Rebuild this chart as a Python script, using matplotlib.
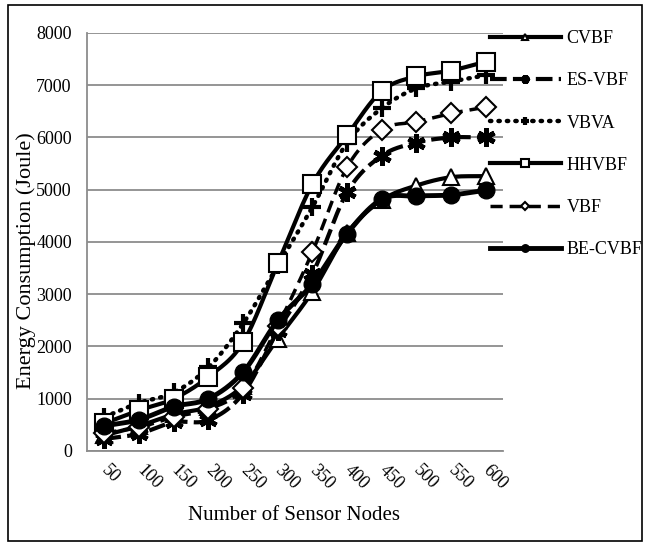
import numpy as np
import matplotlib
matplotlib.use("Agg")
import matplotlib.pyplot as plt
from matplotlib.lines import Line2D
from matplotlib.patches import Rectangle

plt.rcParams['font.family'] = ['Liberation Serif', 'DejaVu Serif']

# Energy consumption per protocol (Joule) vs number of sensor nodes
nodes = [50, 100, 150, 200, 250, 300, 350, 400, 450, 500, 550, 600]
cvbf = [300, 480, 700, 850, 1250, 2150, 3050, 4170, 4800, 5080, 5240, 5260]
es_vbf = [230, 330, 550, 590, 1100, 2300, 3390, 4950, 5650, 5900, 6000, 6000]
vbva = [650, 920, 1120, 1600, 2440, 3550, 4670, 5900, 6560, 6940, 7070, 7190]
hhvbf = [530, 780, 1000, 1420, 2080, 3590, 5110, 6040, 6890, 7170, 7280, 7450]
vbf = [350, 450, 650, 800, 1200, 2400, 3810, 5430, 6150, 6300, 6460, 6580]
be_cvbf = [480, 600, 850, 1000, 1510, 2500, 3200, 4160, 4820, 4880, 4900, 4990]


def smooth(y, n=24):
    # Catmull-Rom spline through the points, like a smoothed office chart line
    y = np.asarray(y, dtype=float)
    p = np.concatenate([[2 * y[0] - y[1]], y, [2 * y[-1] - y[-2]]])
    xs, ys = [], []
    for i in range(len(y) - 1):
        p0, p1, p2, p3 = p[i], p[i + 1], p[i + 2], p[i + 3]
        t = np.linspace(0, 1, n, endpoint=False)
        yy = 0.5 * ((2 * p1) + (-p0 + p2) * t + (2 * p0 - 5 * p1 + 4 * p2 - p3) * t ** 2
                    + (-p0 + 3 * p1 - 3 * p2 + p3) * t ** 3)
        xs.append(i + t)
        ys.append(yy)
    xs.append([len(y) - 1])
    ys.append([y[-1]])
    return np.concatenate(xs), np.concatenate(ys)


series = [
    ("CVBF", cvbf, dict(ls='-', lw=3, marker='^', ms=11, mfc='white', mew=1.5)),
    ("ES-VBF", es_vbf, dict(ls=(0, (4, 1.5)), lw=3, marker=(6, 2, 0), ms=13, mew=3.5)),
    ("VBVA", vbva, dict(ls=(0, (0.3, 1.6)), lw=3.2, dash_capstyle='round', marker='+', ms=13, mew=3)),
    ("HHVBF", hhvbf, dict(ls='-', lw=3, marker='s', ms=13, mfc='white', mew=1.5)),
    ("VBF", vbf, dict(ls=(0, (3.5, 2)), lw=2.5, marker='D', ms=10, mfc='white', mew=1.5)),
    ("BE-CVBF", be_cvbf, dict(ls='-', lw=3.5, marker='o', ms=12)),
]

fig = plt.figure(figsize=(6.5, 5.45), dpi=100)
ax = fig.add_axes([0.134, 0.1725, 0.640, 0.767])

x = np.arange(len(nodes))
handles = []
for name, vals, st in series:
    sx, sy = smooth(vals)
    style = {k: v for k, v in st.items() if not k.startswith('m')}
    ax.plot(sx, sy, color='black', solid_capstyle='butt', **style)
    ax.plot(x, vals, ls='none', color='black', marker=st['marker'], ms=st['ms'],
            mfc=st.get('mfc', 'black'), mec='black', mew=st.get('mew', 1))
    handles.append(Line2D([], [], color='black', label=name, **st))

ax.set_xlim(-0.5, len(nodes) - 0.5)
ax.set_ylim(0, 8000)
ax.set_yticks(range(0, 8001, 1000))
ax.set_xticks(x)
ax.set_xticklabels([str(n) for n in nodes], rotation=-45, ha='left', va='center',
                   rotation_mode='anchor', fontsize=13)
ax.tick_params(axis='both', length=0, labelsize=13)
ax.tick_params(axis='y', pad=11)
ax.tick_params(axis='x', pad=12)
ax.grid(axis='y', color='#8c8c8c', lw=1.3)
ax.set_axisbelow(True)
for side in ['top', 'right']:
    ax.spines[side].set_visible(False)
for side in ['left', 'bottom']:
    ax.spines[side].set_color('#8c8c8c')
    ax.spines[side].set_linewidth(1.3)

fig.text(0.453, 0.055, "Number of Sensor Nodes", ha='center', va='center', fontsize=15)
fig.text(0.040, 0.521, "Energy Consumption (Joule)", ha='center', va='center',
         rotation=90, fontsize=16)

fig.legend(handles=handles, loc='upper left', bbox_to_anchor=(0.754, 0.945),
           frameon=False, fontsize=13, handlelength=3.9, labelspacing=1.4,
           markerscale=0.45, borderpad=0, borderaxespad=0, handletextpad=0.33)

fig.patches.append(Rectangle((0.012, 0.008), 0.976, 0.982, transform=fig.transFigure,
                             fill=False, ec='black', lw=1.2))

fig.savefig("out.png", dpi=100)
